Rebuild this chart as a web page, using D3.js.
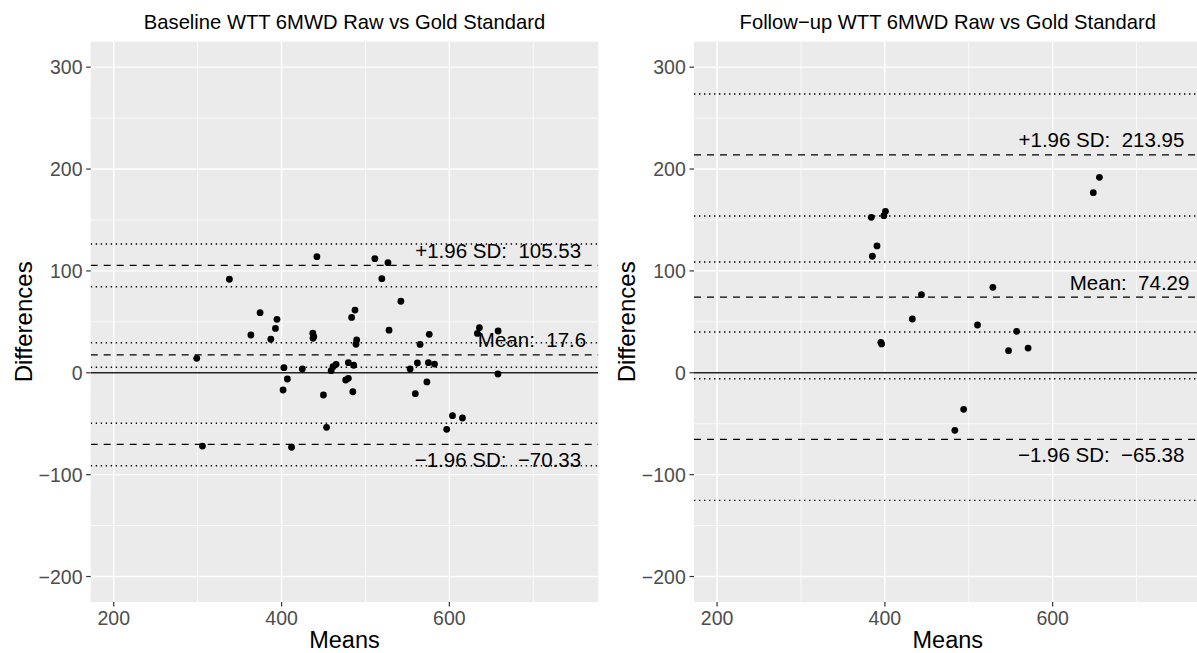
<!DOCTYPE html>
<html>
<head>
<meta charset="utf-8">
<script src="https://cdn.jsdelivr.net/npm/d3@7"></script>
<style>
  body { margin: 0; background: #fff; }
  svg { display: block; font-family: "Liberation Sans", Arial, sans-serif; }
  text { white-space: pre; }
</style>
</head>
<body>
<svg id="chart"></svg>
<script>
// baseline visit: means vs differences
const baseMeans = [337.8, 374.4, 394.5, 392.7, 442.1, 483.5, 487.5, 511.2, 526.8, 519.5,
  542.2, 528.1, 635.8, 658.1, 298.9, 305.7, 363.4, 387.2, 402.8, 406.9,
  401.8, 411.9, 424.7, 437.2, 438.4, 437.5, 449.9, 453.6, 459.1, 461.3,
  465.0, 476.4, 479.6, 479.6, 484.9, 486.0, 488.7, 489.5, 553.2, 559.4,
  561.9, 565.1, 573.2, 575.0, 576.0, 582.3, 596.8, 603.7, 615.6, 633.4, 657.9];
const baseDiffs = [91.8, 59.0, 52.5, 43.5, 114.0, 54.3, 61.6, 112.0, 108.1, 92.4,
  70.2, 41.8, 44.3, 41.0, 14.2, -71.9, 37.1, 32.9, 5.0, -6.1,
  -16.9, -73.1, 3.7, 38.8, 35.5, 33.9, -21.8, -53.5, 2.1, 6.0,
  8.3, -7.1, -5.4, 9.9, -18.6, 7.4, 28.0, 32.2, 3.7, -20.5,
  9.6, 27.8, -9.0, 9.9, 37.8, 8.6, -55.5, -42.1, -44.4, 38.6, -1.2];

// follow-up visit
const followMeans = [383.8, 398.8, 400.7, 390.6, 385.1, 443.6, 432.7, 528.7, 510.4,
  557.0, 648.4, 655.7, 395.2, 396.1, 547.4, 570.7, 493.9, 483.4];
const followDiffs = [152.6, 154.2, 158.5, 124.5, 114.4, 76.7, 52.8, 83.9, 46.9,
  40.7, 176.8, 191.9, 29.9, 28.3, 21.7, 24.3, -35.9, -56.5];

// lower LoA, mean, upper LoA and their confidence limits
const baseLimits = [-70.33, 17.6, 105.53];
const baseCI = [[-91.2, -49.6], [5.4, 29.5], [84.5, 126.4]];
const followLimits = [-65.38, 74.29, 213.95];
const followCI = [[-125.2, -5.8], [40.1, 108.8], [153.9, 273.7]];

const limitNames = ["\u22121.96 SD:  ", "Mean:  ", "+1.96 SD:  "];
const xTicks = [200, 400, 600];
const xMinor = [300, 500, 700];
const yTicks = [-200, -100, 0, 100, 200, 300];
const yMinor = [-150, -50, 50, 150, 250];
const xLimits = [200, 750];
const yLimits = [-200, 300];

const width = 1197;
const height = 653;
const fmt = (v) => (v < 0 ? "\u2212" + Math.abs(v) : String(v));

const svg = d3.select("#chart").attr("width", width).attr("height", height);

function expand(lim) {
  const pad = (lim[1] - lim[0]) * 0.05;
  return [lim[0] - pad, lim[1] + pad];
}

function drawPanel(offsetX, title, means, diffs, limits, ci, id) {
  const left = 90.7, right = 598.3, top = 41.7, bottom = 602;
  const g = svg.append("g").attr("transform", `translate(${offsetX},0)`);

  const x = d3.scaleLinear().domain(expand(xLimits)).range([left, right]);
  const y = d3.scaleLinear().domain(expand(yLimits)).range([bottom, top]);

  g.append("clipPath").attr("id", id)
    .append("rect").attr("x", left).attr("y", top)
    .attr("width", right - left).attr("height", bottom - top);

  g.append("rect").attr("x", left).attr("y", top)
    .attr("width", right - left).attr("height", bottom - top)
    .attr("fill", "#EBEBEB");

  const grid = g.append("g").attr("clip-path", `url(#${id})`);
  grid.selectAll(".ymin").data(yMinor).enter().append("line")
    .attr("x1", left).attr("x2", right)
    .attr("y1", (d) => y(d)).attr("y2", (d) => y(d))
    .attr("stroke", "#fff").attr("stroke-width", 0.7);
  grid.selectAll(".xmin").data(xMinor).enter().append("line")
    .attr("y1", top).attr("y2", bottom)
    .attr("x1", (d) => x(d)).attr("x2", (d) => x(d))
    .attr("stroke", "#fff").attr("stroke-width", 0.7);
  grid.selectAll(".ymaj").data(yTicks).enter().append("line")
    .attr("x1", left).attr("x2", right)
    .attr("y1", (d) => y(d)).attr("y2", (d) => y(d))
    .attr("stroke", "#fff").attr("stroke-width", 1.4);
  grid.selectAll(".xmaj").data(xTicks).enter().append("line")
    .attr("y1", top).attr("y2", bottom)
    .attr("x1", (d) => x(d)).attr("x2", (d) => x(d))
    .attr("stroke", "#fff").attr("stroke-width", 1.4);

  const marks = g.append("g").attr("clip-path", `url(#${id})`);

  // zero line
  marks.append("line")
    .attr("x1", left).attr("x2", right)
    .attr("y1", y(0)).attr("y2", y(0))
    .attr("stroke", "#222").attr("stroke-width", 1.5);

  // confidence limits (dotted)
  marks.selectAll(".ci").data(ci.flat()).enter().append("line")
    .attr("x1", left).attr("x2", right)
    .attr("y1", (d) => y(d)).attr("y2", (d) => y(d))
    .attr("stroke", "#000").attr("stroke-width", 1.4)
    .attr("stroke-dasharray", "1.4,3.6");

  // mean and limits of agreement (dashed)
  marks.selectAll(".loa").data(limits).enter().append("line")
    .attr("x1", left).attr("x2", right)
    .attr("y1", (d) => y(d)).attr("y2", (d) => y(d))
    .attr("stroke", "#000").attr("stroke-width", 1.3)
    .attr("stroke-dasharray", "7,6");

  marks.selectAll("circle").data(means).enter().append("circle")
    .attr("cx", (d) => x(d))
    .attr("cy", (d, i) => y(diffs[i]))
    .attr("r", 3.4)
    .attr("fill", "#000");

  // labels
  marks.selectAll(".lab").data(limits).enter().append("text")
    .attr("x", (d, i) => x(i === 1 ? 763 : 757))
    .attr("y", (d, i) => (i === 0 ? y(d) + 23 : y(d) - 7.5))
    .attr("text-anchor", "end")
    .attr("font-size", 20.5)
    .attr("fill", "#000")
    .text((d, i) => limitNames[i] + fmt(d));

  // axes
  g.selectAll(".xt").data(xTicks).enter().append("line")
    .attr("x1", (d) => x(d)).attr("x2", (d) => x(d))
    .attr("y1", bottom).attr("y2", bottom + 4.5)
    .attr("stroke", "#333").attr("stroke-width", 1.2);
  g.selectAll(".xl").data(xTicks).enter().append("text")
    .attr("x", (d) => x(d)).attr("y", 624.5)
    .attr("text-anchor", "middle").attr("font-size", 19.5)
    .attr("fill", "#4D4D4D").text(fmt);
  g.selectAll(".yt").data(yTicks).enter().append("line")
    .attr("y1", (d) => y(d)).attr("y2", (d) => y(d))
    .attr("x1", left - 4.5).attr("x2", left)
    .attr("stroke", "#333").attr("stroke-width", 1.2);
  g.selectAll(".yl").data(yTicks).enter().append("text")
    .attr("x", left - 8.2).attr("y", (d) => y(d)).attr("dy", "0.36em")
    .attr("text-anchor", "end").attr("font-size", 19.5)
    .attr("fill", "#4D4D4D").text(fmt);

  g.append("text")
    .attr("x", (left + right) / 2).attr("y", 648)
    .attr("text-anchor", "middle").attr("font-size", 23.5)
    .text("Means");
  g.append("text")
    .attr("transform", `translate(31.5,${(top + bottom) / 2}) rotate(-90)`)
    .attr("text-anchor", "middle").attr("font-size", 24)
    .text("Differences");
  g.append("text")
    .attr("x", (left + right) / 2).attr("y", 29.3)
    .attr("text-anchor", "middle").attr("font-size", 20.2)
    .text(title);
}

drawPanel(0, "Baseline WTT 6MWD Raw vs Gold Standard",
  baseMeans, baseDiffs, baseLimits, baseCI, "clipA");
drawPanel(603.3, "Follow\u2212up WTT 6MWD Raw vs Gold Standard",
  followMeans, followDiffs, followLimits, followCI, "clipB");
</script>
</body>
</html>
